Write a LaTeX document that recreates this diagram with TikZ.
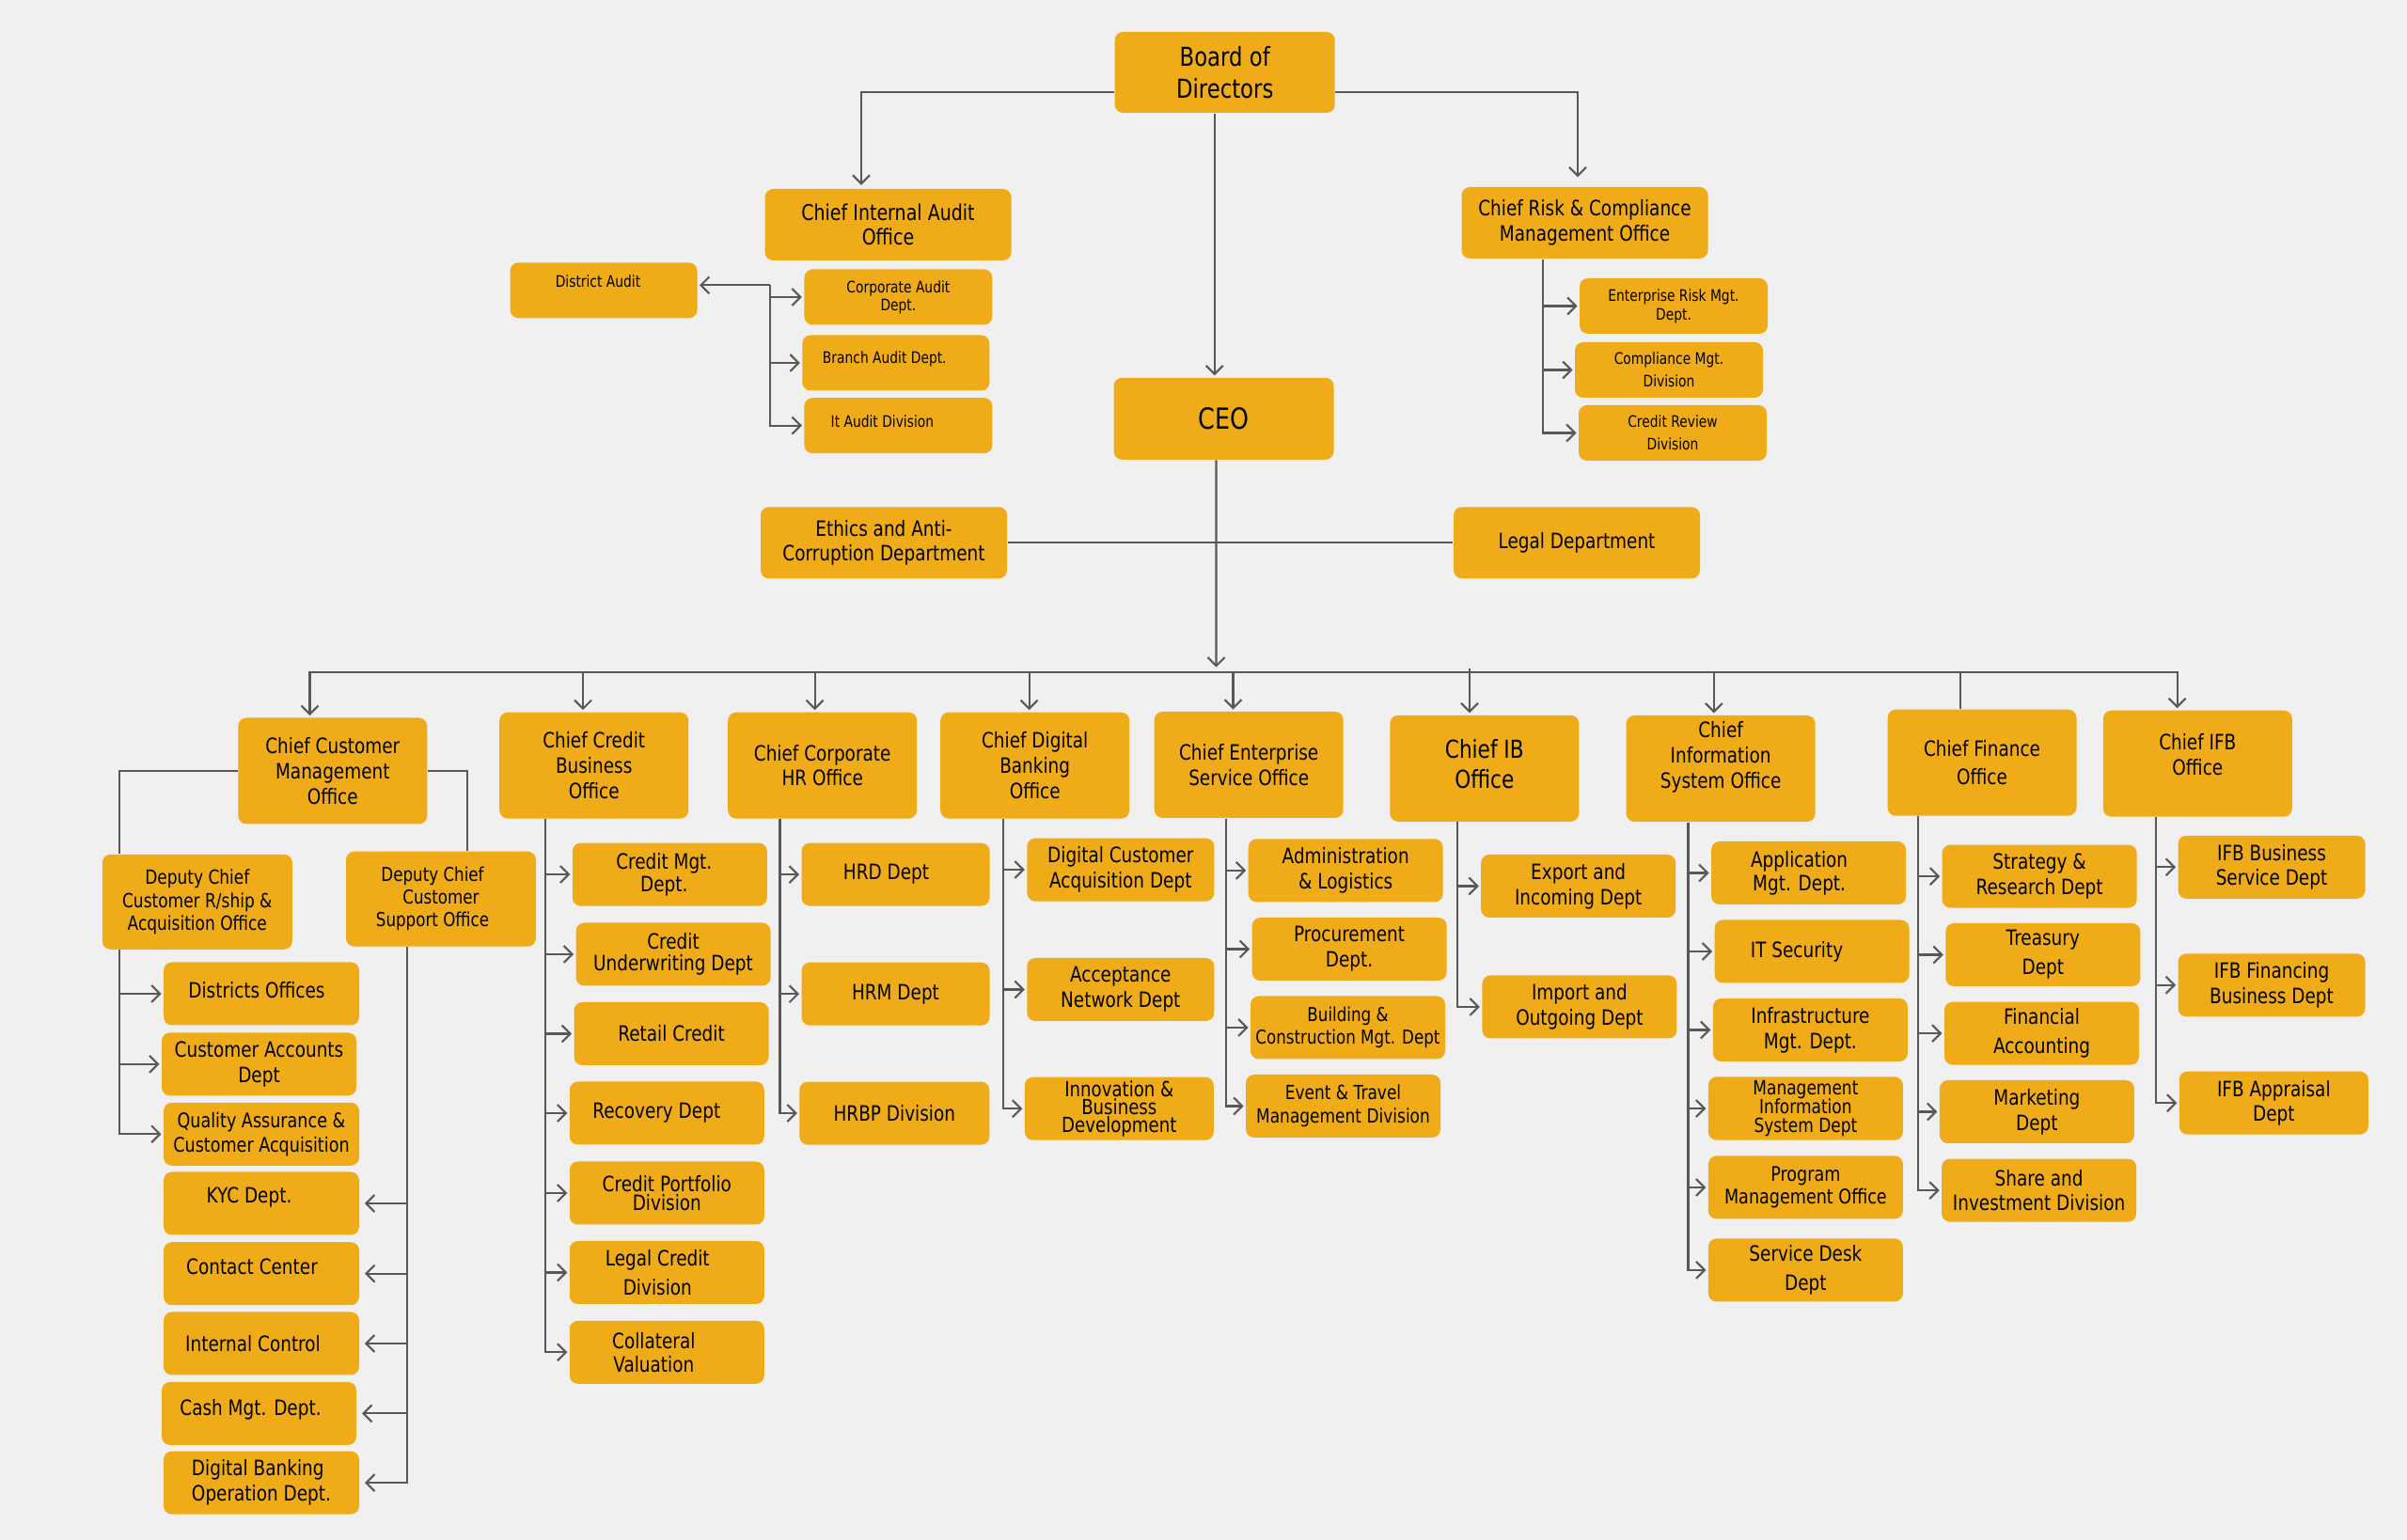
\documentclass[tikz,border=0pt]{standalone}
\usepackage{fontspec}
\setmainfont{DejaVu Sans}[FakeStretch=0.82]
\usepackage{xcolor}
\usepackage{tikz}
\usetikzlibrary{arrows.meta}

\definecolor{boxgold}{RGB}{240,172,24}
\definecolor{wiregray}{RGB}{88,88,88}
\definecolor{paper}{RGB}{240,240,240}

\tikzset{
  orgbox/.style={rectangle, rounded corners=2.5pt, fill=boxgold, align=center, inner sep=1pt, font=\fontsize{6.4}{7.6}\selectfont},
  topbox/.style={orgbox, minimum width=2.62cm, minimum height=0.76cm},
  headbox/.style={orgbox, minimum width=2.01cm, minimum height=1.13cm},
  deptbox/.style={orgbox, minimum width=2.07cm, minimum height=0.67cm},
  subbox/.style={orgbox, minimum width=2cm, minimum height=0.59cm, font=\fontsize{4.8}{5.7}\selectfont},
  tight/.style={font=\fontsize{6.4}{6.7}\selectfont},
  loose/.style={font=\fontsize{6.4}{8.9}\selectfont},
  wire/.style={draw=wiregray, line width=0.6pt},
  link/.style={wire, -{Straight Barb[length=0.9mm,width=1.8mm]}, shorten >=0.5pt},
}

\begin{document}
\begin{tikzpicture}
    \useasboundingbox (0,0) rectangle (25.6,-16.38);
    \fill[paper] (0,0) rectangle (25.6,-16.38);

    % Board, CEO and the offices around them:
    \node[orgbox, minimum width=2.34cm, minimum height=0.86cm, font=\fontsize{7.9}{9.5}\selectfont] (bod) at (13.027,-0.77) {Board of\\Directors};
    \node[topbox, font=\fontsize{6.6}{7.4}\selectfont] (ciao) at (9.445,-2.39) {Chief Internal Audit\\Office};
    \node[topbox] (crcmo) at (16.855,-2.37) {Chief Risk \& Compliance\\Management Office};
    \node[orgbox, minimum width=2.34cm, minimum height=0.87cm, font=\fontsize{8.8}{10}\selectfont] (ceo) at (13.015,-4.453) {CEO};
    \node[topbox] (eth) at (9.40,-5.773) {Ethics and Anti-\\Corruption Department};
    \node[topbox] (leg) at (16.77,-5.773) {Legal Department};

    % Audit and risk units:
    \node[subbox, minimum width=1.99cm, text depth=5.7pt] (dau) at (6.42,-3.088) {District Audit\hspace*{0.12cm}};
    \node[subbox, font=\fontsize{4.8}{5.4}\selectfont] (cad) at (9.554,-3.16) {Corporate Audit\\Dept.};
    \node[subbox, minimum width=1.99cm, text depth=3.4pt] (bad) at (9.528,-3.86) {Branch Audit Dept.\hspace*{0.24cm}};
    \node[subbox, text depth=2.8pt] (itad) at (9.554,-4.527) {It Audit Division\hspace*{0.34cm}};
    \node[subbox] (erm) at (17.80,-3.255) {Enterprise Risk Mgt.\\Dept.};
    \node[subbox, font=\fontsize{4.8}{6.8}\selectfont] (cmd) at (17.75,-3.935) {Compliance Mgt.\\Division};
    \node[subbox, font=\fontsize{4.8}{6.8}\selectfont] (crd) at (17.79,-4.605) {Credit Review\\Division};

    % Chief offices:
    \node[headbox] (ccmo) at (3.538,-8.20) {Chief Customer\\Management\\Office};
    \node[headbox] (ccbo) at (6.317,-8.142) {Chief Credit\\Business\\Office};
    \node[headbox] (cchr) at (8.747,-8.142) {Chief Corporate\\HR Office};
    \node[headbox] (cdbo) at (11.007,-8.142) {Chief Digital\\Banking\\Office};
    \node[headbox] (ceso) at (13.282,-8.135) {Chief Enterprise\\Service Office};
    \node[headbox, font=\fontsize{7.5}{8.9}\selectfont, text depth=2.8pt] (cibo) at (15.788,-8.173) {Chief IB\\Office};
    \node[headbox, text depth=8.3pt] (cisso) at (18.301,-8.175) {Chief\\Information\\System Office};
    \node[headbox, font=\fontsize{6.4}{8.3}\selectfont] (cfo) at (21.08,-8.112) {Chief Finance\\Office};
    \node[headbox, text depth=5.7pt] (cifb) at (23.373,-8.122) {Chief IFB\\Office};

    % Customer management:
    \node[orgbox, minimum width=2.02cm, minimum height=1.01cm, font=\fontsize{5.9}{7}\selectfont] (dcra) at (2.098,-9.593) {Deputy Chief\\Customer R/ship \&\\Acquisition Office};
    \node[orgbox, minimum width=2.02cm, minimum height=1.01cm, font=\fontsize{5.8}{6.8}\selectfont] (dcso) at (4.69,-9.562) {Deputy Chief\hspace*{0.18cm}\\Customer\hspace*{0.18cm}\\Support Office\hspace*{0.18cm}};
    \node[deptbox, minimum width=2.08cm, text depth=2.3pt] (dof) at (2.78,-10.57) {Districts Offices\hspace*{0.1cm}};
    \node[deptbox] (cacc) at (2.755,-11.319) {Customer Accounts\\Dept};
    \node[deptbox, minimum width=2.08cm, font=\fontsize{6.1}{7.4}\selectfont] (qa) at (2.78,-12.063) {Quality Assurance \&\\Customer Acquisition};
    \node[deptbox, minimum width=2.08cm, text depth=5.2pt] (kyc) at (2.78,-12.80) {KYC Dept.\hspace*{0.26cm}};
    \node[deptbox, minimum width=2.08cm, text depth=4.5pt] (ccen) at (2.78,-13.547) {Contact Center\hspace*{0.2cm}};
    \node[deptbox, minimum width=2.08cm] (ictl) at (2.78,-14.29) {Internal Control\hspace*{0.18cm}};
    \node[deptbox, text depth=3.8pt] (cash) at (2.755,-15.034) {Cash Mgt. Dept.\hspace*{0.18cm}};
    \node[deptbox, minimum width=2.08cm, align=left] (dbo) at (2.78,-15.771) {Digital Banking\\Operation Dept.};

    % Credit business:
    \node[deptbox, tight] (cmgt) at (7.123,-9.301) {Credit Mgt.\hspace*{0.12cm}\\Dept.\hspace*{0.12cm}};
    \node[deptbox, tight] (cund) at (7.16,-10.15) {Credit\\Underwriting Dept};
    \node[deptbox] (rcr) at (7.14,-10.995) {Retail Credit};
    \node[deptbox] (rec) at (7.093,-11.84) {Recovery Dept\hspace*{0.22cm}};
    \node[deptbox, font=\fontsize{6.4}{5.9}\selectfont] (cpd) at (7.093,-12.69) {Credit Portfolio\\Division};
    \node[deptbox, loose] (lcd) at (7.093,-13.535) {Legal Credit\hspace*{0.2cm}\\Division\hspace*{0.2cm}};
    \node[deptbox, font=\fontsize{6.4}{7.1}\selectfont] (cval) at (7.093,-14.383) {Collateral\hspace*{0.28cm}\\Valuation\hspace*{0.28cm}};

    % Corporate HR:
    \node[deptbox, minimum width=2cm] (hrd) at (9.525,-9.301) {HRD Dept\hspace*{0.2cm}};
    \node[deptbox, minimum width=2cm] (hrm) at (9.525,-10.572) {HRM Dept};
    \node[deptbox, minimum width=2.02cm] (hrbp) at (9.513,-11.841) {HRBP Division};

    % Digital banking:
    \node[deptbox, minimum width=1.99cm] (dca) at (11.918,-9.251) {Digital Customer\\Acquisition Dept};
    \node[deptbox, minimum width=1.99cm] (anet) at (11.918,-10.525) {Acceptance\\Network Dept};
    \node[deptbox, minimum width=2.01cm, font=\fontsize{6.3}{5.4}\selectfont] (ibd) at (11.903,-11.792) {Innovation \&\\Business\\Development};

    % Enterprise service:
    \node[deptbox] (adm) at (14.312,-9.259) {Administration\\\& Logistics};
    \node[deptbox] (proc) at (14.351,-10.095) {Procurement\\Dept.};
    \node[deptbox, font=\fontsize{5.8}{6.7}\selectfont] (bcm) at (14.335,-10.93) {Building \&\\Construction Mgt. Dept};
    \node[deptbox, font=\fontsize{5.9}{7.2}\selectfont] (etm) at (14.285,-11.765) {Event \& Travel\\Management Division};

    % IB:
    \node[deptbox] (exp) at (16.787,-9.425) {Export and\\Incoming Dept};
    \node[deptbox] (imp) at (16.799,-10.71) {Import and\\Outgoing Dept};

    % Information systems:
    \node[deptbox, font=\fontsize{6.4}{7.2}\selectfont] (app) at (19.236,-9.285) {Application\hspace*{0.2cm}\\Mgt. Dept.\hspace*{0.2cm}};
    \node[deptbox] (its) at (19.27,-10.12) {IT Security\hspace*{0.32cm}};
    \node[deptbox] (infra) at (19.254,-10.955) {Infrastructure\\Mgt. Dept.};
    \node[deptbox, font=\fontsize{5.9}{5.8}\selectfont] (mis) at (19.204,-11.79) {Management\\Information\\System Dept};
    \node[deptbox, font=\fontsize{6.1}{6.6}\selectfont] (pmo) at (19.204,-12.63) {Program\\Management Office};
    \node[deptbox, loose] (sdd) at (19.204,-13.509) {Service Desk\\Dept};

    % Finance:
    \node[deptbox] (srd) at (21.691,-9.321) {Strategy \&\\Research Dept};
    \node[deptbox, loose] (tre) at (21.728,-10.155) {Treasury\\Dept};
    \node[deptbox, loose] (fac) at (21.715,-10.991) {Financial\\Accounting};
    \node[deptbox] (mkt) at (21.664,-11.825) {Marketing\\Dept};
    \node[deptbox] (sid) at (21.686,-12.661) {Share and\\Investment Division};

    % IFB:
    \node[deptbox, minimum width=1.99cm] (ifbs) at (24.16,-9.223) {IFB Business\\Service Dept};
    \node[deptbox, minimum width=1.99cm] (ifbf) at (24.16,-10.478) {IFB Financing\\Business Dept};
    \node[deptbox, minimum width=2.01cm] (ifba) at (24.183,-11.732) {IFB Appraisal\\Dept};

    % Board connectors:
    \draw[link, shorten >=1pt] ([yshift=-2.1mm]bod.west) -| ([xshift=-2.85mm]ciao.north);
    \draw[link, shorten >=2.8pt] ([yshift=-2.1mm]bod.east) -| ([xshift=-0.75mm]crcmo.north);
    \draw[link] ([xshift=-1.1mm]bod.south) -- ([xshift=-1.1mm]bod.south |- ceo.north);

    % Audit bracket:
    \coordinate (audtop) at (8.187,-3.033);
    \draw[link] (audtop) -- (audtop -| dau.east);
    \draw[link] (audtop) |- (cad.west);
    \draw[link] (audtop) |- (bad.west);
    \draw[link] (audtop) |- (itad.west);

    % Risk bracket:
    \draw[link] ([xshift=-4.45mm]crcmo.south) |- (erm.west);
    \draw[link] ([xshift=-4.45mm]crcmo.south) |- (cmd.west);
    \draw[link] ([xshift=-4.45mm]crcmo.south) |- (crd.west);

    % CEO, staff line and bus:
    \draw[wire] (eth.east) -- (leg.west);
    \coordinate (bus) at (12.935,-7.15);
    \draw[link, shorten >=1.5pt] ([xshift=-0.8mm]ceo.south) -- (bus);
    \draw[link] (bus) -| ([xshift=-2.43mm]ccmo.north);
    \draw[link] (bus) -| ([xshift=-2.17mm]cifb.north);
    \draw[link] ([xshift=-1.17mm]ccbo.north |- bus) -- ([xshift=-1.17mm]ccbo.north);
    \draw[link] ([xshift=-0.81mm]cchr.north |- bus) -- ([xshift=-0.81mm]cchr.north);
    \draw[link] ([xshift=-0.61mm]cdbo.north |- bus) -- ([xshift=-0.61mm]cdbo.north);
    \draw[link] ([xshift=-1.67mm]ceso.north |- bus) -- ([xshift=-1.67mm]ceso.north);
    \draw[link] ([shift={(-1.58mm,0.4mm)}]cibo.north |- bus) -- ([xshift=-1.58mm]cibo.north);
    \draw[link] ([xshift=-0.73mm]cisso.north |- bus) -- ([xshift=-0.73mm]cisso.north);
    \draw[wire] ([xshift=-2.33mm]cfo.north |- bus) -- ([xshift=-2.33mm]cfo.north);

    % Customer management tree:
    \draw[wire] (ccmo.west) -| ([xshift=-8.3mm]dcra.north);
    \draw[wire] (ccmo.east) -| ([xshift=2.83mm]dcso.north);
    \draw[link] ([xshift=-8.3mm]dcra.south) |- (dof.west);
    \draw[link] ([xshift=-8.3mm]dcra.south) |- (cacc.west);
    \draw[link] ([xshift=-8.3mm]dcra.south) |- (qa.west);
    \draw[link, shorten >=1.5pt] ([xshift=-3.57mm]dcso.south) |- (kyc.east);
    \draw[link, shorten >=1.5pt] ([xshift=-3.57mm]dcso.south) |- (ccen.east);
    \draw[link, shorten >=1.5pt] ([xshift=-3.57mm]dcso.south) |- (ictl.east);
    \draw[link, shorten >=1.5pt] ([xshift=-3.57mm]dcso.south) |- (cash.east);
    \draw[link, shorten >=1.5pt] ([xshift=-3.57mm]dcso.south) |- (dbo.east);

    % Credit tree:
    \draw[link] ([xshift=-5.2mm]ccbo.south) |- (cmgt.west);
    \draw[link] ([xshift=-5.2mm]ccbo.south) |- (cund.west);
    \draw[link] ([xshift=-5.2mm]ccbo.south) |- (rcr.west);
    \draw[link] ([xshift=-5.2mm]ccbo.south) |- (rec.west);
    \draw[link] ([xshift=-5.2mm]ccbo.south) |- (cpd.west);
    \draw[link] ([xshift=-5.2mm]ccbo.south) |- (lcd.west);
    \draw[link] ([xshift=-5.2mm]ccbo.south) |- (cval.west);

    % HR tree:
    \draw[link] ([xshift=-4.52mm]cchr.south) |- (hrd.west);
    \draw[link] ([xshift=-4.52mm]cchr.south) |- (hrm.west);
    \draw[link] ([xshift=-4.52mm]cchr.south) |- (hrbp.west);

    % Digital tree:
    \draw[link] ([xshift=-3.34mm]cdbo.south) |- (dca.west);
    \draw[link] ([xshift=-3.34mm]cdbo.south) |- (anet.west);
    \draw[link] ([xshift=-3.34mm]cdbo.south) |- (ibd.west);

    % Enterprise tree:
    \draw[link] ([xshift=-2.42mm]ceso.south) |- (adm.west);
    \draw[link] ([xshift=-2.42mm]ceso.south) |- (proc.west);
    \draw[link] ([xshift=-2.42mm]ceso.south) |- (bcm.west);
    \draw[link] ([xshift=-2.42mm]ceso.south) |- (etm.west);

    % IB tree:
    \draw[link] ([xshift=-2.91mm]cibo.south) |- (exp.west);
    \draw[link] ([xshift=-2.91mm]cibo.south) |- (imp.west);

    % Information systems tree:
    \draw[link] ([xshift=-3.46mm]cisso.south) |- (app.west);
    \draw[link] ([xshift=-3.46mm]cisso.south) |- (its.west);
    \draw[link] ([xshift=-3.46mm]cisso.south) |- (infra.west);
    \draw[link] ([xshift=-3.46mm]cisso.south) |- (mis.west);
    \draw[link] ([xshift=-3.46mm]cisso.south) |- (pmo.west);
    \draw[link] ([xshift=-3.46mm]cisso.south) |- (sdd.west);

    % Finance tree:
    \draw[link] ([xshift=-6.77mm]cfo.south) |- (srd.west);
    \draw[link] ([xshift=-6.77mm]cfo.south) |- (tre.west);
    \draw[link] ([xshift=-6.77mm]cfo.south) |- (fac.west);
    \draw[link] ([xshift=-6.77mm]cfo.south) |- (mkt.west);
    \draw[link] ([xshift=-6.77mm]cfo.south) |- (sid.west);

    % IFB tree:
    \draw[link] ([xshift=-4.47mm]cifb.south) |- (ifbs.west);
    \draw[link] ([xshift=-4.47mm]cifb.south) |- (ifbf.west);
    \draw[link] ([xshift=-4.47mm]cifb.south) |- (ifba.west);
\end{tikzpicture}
\end{document}
